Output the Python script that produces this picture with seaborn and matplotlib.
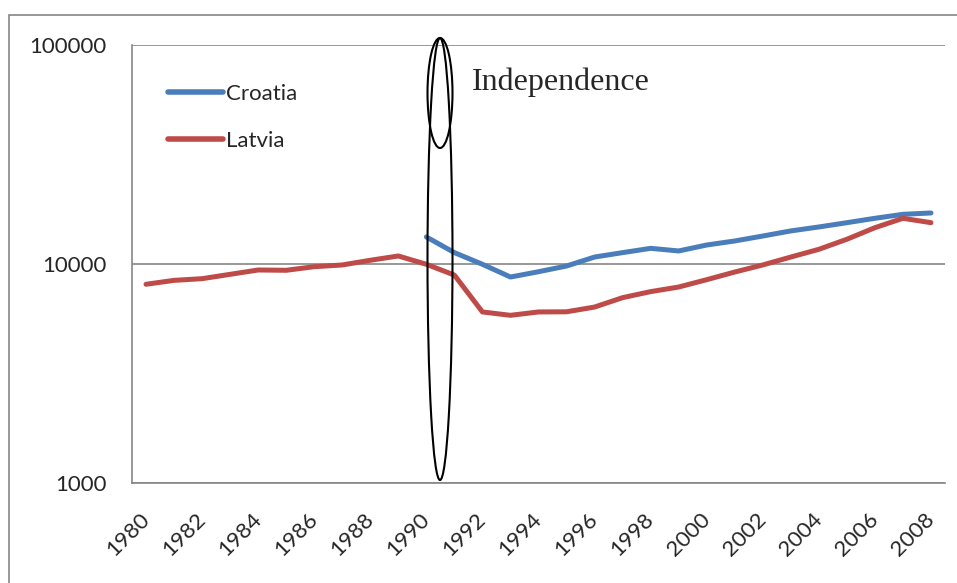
import matplotlib
matplotlib.use("Agg")
import matplotlib.pyplot as plt
from matplotlib.patches import Ellipse, Rectangle
from matplotlib.ticker import FixedLocator, FixedFormatter, NullLocator
import seaborn as sns
import pandas as pd
import numpy as np

# GDP per capita (log scale)
years_latvia = list(range(1980, 2009))
latvia = [8080, 8420, 8570, 8970, 9390, 9360, 9720, 9900, 10400, 10880,
          9970, 8900, 6040, 5830, 6040, 6050, 6360, 7020, 7480, 7850,
          8480, 9190, 9900, 10760, 11670, 12970, 14650, 16170, 15440]

years_croatia = list(range(1990, 2009))
croatia = [13290, 11270, 9970, 8720, 9220, 9790, 10760, 11270, 11790, 11470,
           12210, 12740, 13420, 14160, 14760, 15440, 16170, 16860, 17100]

countries = ["Croatia", "Latvia"]
colors = ["#4A7EBB", "#BE4B48"]
even_years = list(range(1980, 2009, 2))
y_ticks = [1000, 10000, 100000]

df = pd.concat([
    pd.DataFrame({"year": years_croatia, "gdp": croatia, "country": "Croatia"}),
    pd.DataFrame({"year": years_latvia, "gdp": latvia, "country": "Latvia"}),
])

sns.set_style("white")
plt.rcParams["font.family"] = ["Lato", "DejaVu Sans"]

W, H = 957, 583
fig = plt.figure(figsize=(W / 100, H / 100), dpi=100)
ax = fig.add_axes([132 / W, 1 - 483 / H, (945 - 132) / W, (483 - 45) / H])

sns.lineplot(data=df, x="year", y="gdp", hue="country", hue_order=countries,
             palette=colors, linewidth=3.6, ax=ax, legend=True)

ax.set_yscale("log")
ax.set_ylim(1000, 100000)
ax.set_xlim(1979.5, 2008.5)
ax.yaxis.set_major_locator(FixedLocator(y_ticks))
ax.yaxis.set_major_formatter(FixedFormatter([str(v) for v in y_ticks]))
ax.yaxis.set_minor_locator(NullLocator())
ax.xaxis.set_major_locator(FixedLocator(even_years))
ax.xaxis.set_major_formatter(FixedFormatter([str(y) for y in even_years]))
ax.xaxis.set_minor_locator(FixedLocator(np.arange(1979.5, 2009, 1)))

grey = "#868686"
ax.grid(axis="y", which="major", color=grey, linewidth=1.2)
ax.set_axisbelow(True)
for side in ["top", "right"]:
    ax.spines[side].set_visible(False)
for side in ["left", "bottom"]:
    ax.spines[side].set_color(grey)
    ax.spines[side].set_linewidth(1.2)

ax.tick_params(axis="y", which="major", direction="out", length=6.5, width=1.2,
               color=grey, labelsize=16, pad=12)
ax.tick_params(axis="x", which="major", length=0, labelsize=16, pad=24)
ax.tick_params(axis="x", which="minor", direction="out", length=5, width=1.2,
               color=grey)
for lbl in ax.get_xticklabels():
    lbl.set_rotation(45)
    lbl.set_ha("right")
    lbl.set_va("center")
    lbl.set_rotation_mode("anchor")

ax.set_xlabel("")
ax.set_ylabel("")

leg = ax.legend(loc="upper left", bbox_to_anchor=(0.02, 0.957), frameon=False,
                fontsize=16, handlelength=2.45, handletextpad=0.15,
                labelspacing=1.2)
for line in leg.get_lines():
    line.set_linewidth(4)
    line.set_solid_capstyle("round")

# independence marker ellipses (figure pixel coordinates)
def fx(px):
    return px / W

def fy(py):
    return 1 - py / H

big = Ellipse((fx(440), fy(259)), width=25 / W, height=442 / H,
              transform=fig.transFigure, fill=False, edgecolor="black",
              linewidth=1.5, zorder=5)
small = Ellipse((fx(440), fy(93)), width=25 / W, height=110 / H,
                transform=fig.transFigure, fill=False, edgecolor="black",
                linewidth=1.5, zorder=5)
fig.add_artist(big)
fig.add_artist(small)
fig.text(fx(472), fy(82), "Independence", family=["Liberation Serif"],
         fontsize=23, va="center", ha="left")

# outer chart frame
fig.add_artist(Rectangle((fx(9), -0.1), 1.0, fy(15) + 0.1,
                         transform=fig.transFigure, fill=False,
                         edgecolor=grey, linewidth=1.2))

fig.savefig("out.png", dpi=100)
